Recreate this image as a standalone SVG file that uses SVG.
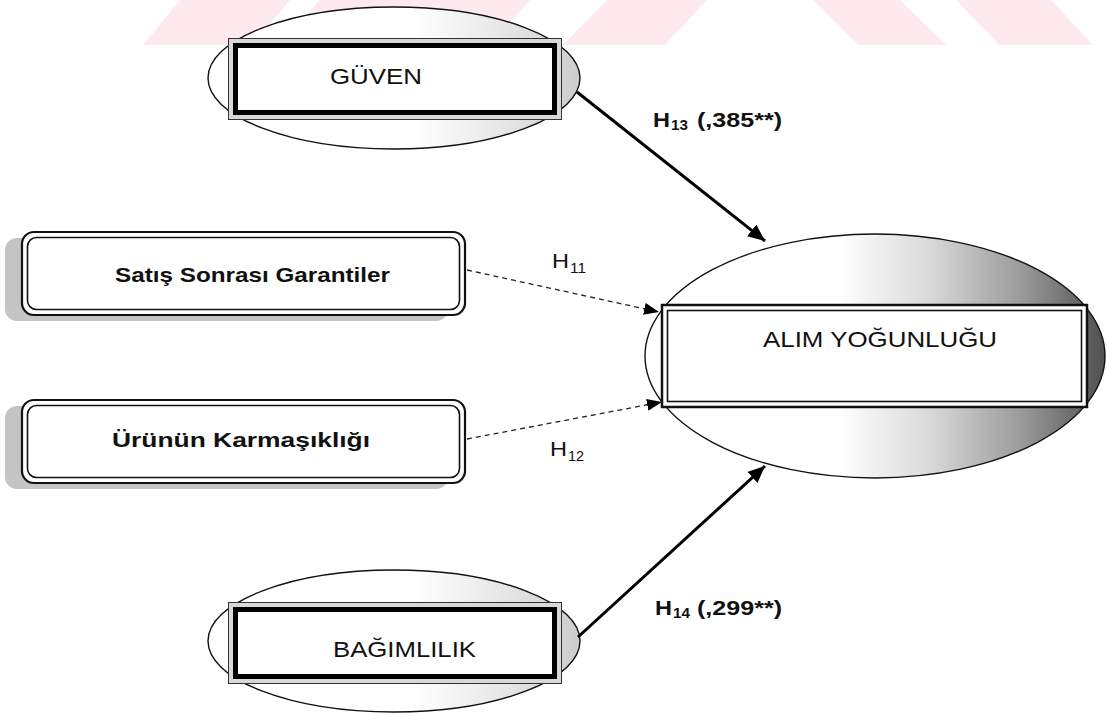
<svg xmlns="http://www.w3.org/2000/svg" width="1107" height="713" viewBox="0 0 1107 713">
<style>
.t{font-family:"Liberation Sans",Arial,sans-serif;fill:#111}
.b{font-weight:bold}
.solid{stroke:#000;stroke-width:3;fill:none}
.dash{stroke:#222;stroke-width:1.3;stroke-dasharray:5 4;fill:none}
.wm{fill:#fde9ee}
</style>
<defs>
<linearGradient id="gSmall" x1="0" y1="0" x2="1" y2="0">
<stop offset="0" stop-color="#fff"/>
<stop offset="0.55" stop-color="#fff"/>
<stop offset="0.8" stop-color="#e6e6e6"/>
<stop offset="1" stop-color="#cccccc"/>
</linearGradient>
<linearGradient id="gBig" x1="0" y1="0" x2="1" y2="0">
<stop offset="0" stop-color="#fff"/>
<stop offset="0.42" stop-color="#fff"/>
<stop offset="0.62" stop-color="#d9d9d9"/>
<stop offset="0.82" stop-color="#9a9a9a"/>
<stop offset="1" stop-color="#505050"/>
</linearGradient>
<marker id="ah" markerUnits="userSpaceOnUse" markerWidth="17" markerHeight="15" refX="17" refY="7.5" orient="auto">
<path d="M0,0 L17,7.5 L0,15 Z" fill="#000"/>
</marker>
<marker id="ahd" markerUnits="userSpaceOnUse" markerWidth="15" markerHeight="12" refX="15" refY="6" orient="auto">
<path d="M0,0 L15,6 L0,12 Z" fill="#000"/>
</marker>
</defs>
<rect width="1107" height="713" fill="#fff"/>
<g id="watermark">
<polygon class="wm" points="180,0 290,0 253,45 143,45"/>
<polygon class="wm" points="320,0 530,0 490,45 280,45"/>
<polygon class="wm" points="607,0 707,0 665,45 563,45"/>
<polygon class="wm" points="813,0 900,0 946,45 858,45"/>
<polygon class="wm" points="956,0 1051,0 1093,45 999,45"/>
</g>
<g id="guven">
<ellipse cx="394" cy="78" rx="186" ry="71" fill="url(#gSmall)" stroke="#111" stroke-width="1.4"/>
<rect x="228.5" y="38.5" width="333" height="81" fill="#d8d8d8" stroke="#333" stroke-width="1"/>
<rect x="235.5" y="45.5" width="319" height="67" fill="#fff" stroke="#000" stroke-width="5"/>
<text class="t" x="330" y="84" font-size="22" textLength="92" lengthAdjust="spacingAndGlyphs">GÜVEN</text>
</g>
<g id="satis">
<rect x="5" y="238" width="443" height="83" rx="12" fill="#c4c4c4"/>
<rect x="22" y="232" width="443" height="83" rx="12" fill="#fff" stroke="#111" stroke-width="2.2"/>
<rect x="27.5" y="237.5" width="432" height="72" rx="9" fill="none" stroke="#111" stroke-width="1.6"/>
<text class="t b" x="115" y="282" font-size="21" textLength="275" lengthAdjust="spacingAndGlyphs">Satış Sonrası Garantiler</text>
</g>
<g id="urunun">
<rect x="5" y="406" width="443" height="83" rx="12" fill="#c4c4c4"/>
<rect x="22" y="400" width="443" height="83" rx="12" fill="#fff" stroke="#111" stroke-width="2.2"/>
<rect x="27.5" y="405.5" width="432" height="72" rx="9" fill="none" stroke="#111" stroke-width="1.6"/>
<text class="t b" x="112" y="447" font-size="21" textLength="258" lengthAdjust="spacingAndGlyphs">Ürünün Karmaşıklığı</text>
</g>
<g id="alim">
<ellipse cx="875" cy="356" rx="230" ry="122" fill="url(#gBig)" stroke="#111" stroke-width="1.4"/>
<rect x="662" y="305" width="425" height="102" fill="#fff" stroke="#111" stroke-width="2.5"/>
<rect x="667.5" y="310.5" width="414" height="91" fill="none" stroke="#111" stroke-width="1.6"/>
<text class="t" x="763" y="347" font-size="22" textLength="234" lengthAdjust="spacingAndGlyphs">ALIM YOĞUNLUĞU</text>
</g>
<g id="bagimlilik">
<ellipse cx="394" cy="641" rx="186" ry="71" fill="url(#gSmall)" stroke="#111" stroke-width="1.4"/>
<rect x="228.5" y="602.5" width="333" height="81" fill="#d8d8d8" stroke="#333" stroke-width="1"/>
<rect x="235.5" y="609.5" width="319" height="67" fill="#fff" stroke="#000" stroke-width="5"/>
<text class="t" x="333" y="657" font-size="22" textLength="143" lengthAdjust="spacingAndGlyphs">BAĞIMLILIK</text>
</g>
<g id="connectors">
<line class="solid" x1="577" y1="92" x2="765" y2="241" marker-end="url(#ah)"/>
<line class="solid" x1="578" y1="637" x2="765" y2="466" marker-end="url(#ah)"/>
<line class="dash" x1="467" y1="270" x2="659" y2="312" marker-end="url(#ahd)"/>
<line class="dash" x1="467" y1="439" x2="662" y2="402" marker-end="url(#ahd)"/>
</g>
<g id="labels">
<text class="t" x="552" y="268" font-size="20" textLength="17" lengthAdjust="spacingAndGlyphs">H</text>
<text class="t" x="570" y="273" font-size="14" textLength="16" lengthAdjust="spacingAndGlyphs">11</text>
<text class="t" x="550" y="456" font-size="20" textLength="17" lengthAdjust="spacingAndGlyphs">H</text>
<text class="t" x="568" y="461" font-size="14" textLength="16" lengthAdjust="spacingAndGlyphs">12</text>
<text class="t b" x="653" y="127" font-size="21" textLength="17" lengthAdjust="spacingAndGlyphs">H</text>
<text class="t b" x="671" y="130" font-size="14" textLength="17" lengthAdjust="spacingAndGlyphs">13</text>
<text class="t b" x="697" y="127" font-size="21" textLength="85" lengthAdjust="spacingAndGlyphs">(,385**)</text>
<text class="t b" x="655" y="615" font-size="21" textLength="17" lengthAdjust="spacingAndGlyphs">H</text>
<text class="t b" x="673" y="618" font-size="14" textLength="17" lengthAdjust="spacingAndGlyphs">14</text>
<text class="t b" x="697" y="615" font-size="21" textLength="85" lengthAdjust="spacingAndGlyphs">(,299**)</text>
</g>
</svg>
